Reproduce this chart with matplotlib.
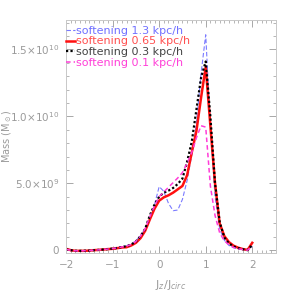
import numpy as np
import matplotlib
matplotlib.use('Agg')
import matplotlib.pyplot as plt
from matplotlib.ticker import MultipleLocator, FixedLocator

# Jz/Jcirc bin centres
jz = [-2.0, -1.9, -1.8, -1.7, -1.6, -1.5, -1.4, -1.3, -1.2, -1.1,
      -1.0, -0.9, -0.8, -0.7, -0.6, -0.5, -0.4, -0.3, -0.2, -0.1,
      0.0, 0.1, 0.2, 0.3, 0.4, 0.5, 0.6, 0.7, 0.8, 0.9,
      1.0, 1.1, 1.2, 1.3, 1.4, 1.5, 1.6, 1.7, 1.8, 1.9, 2.0]

# mass per bin, units of 1e9 Msun
soft_13 = [0.15, 0.0, -0.05, -0.05, -0.04, -0.03, 0.0, 0.02, 0.05, 0.08,
           0.12, 0.17, 0.25, 0.32, 0.45, 0.7, 1.1, 1.6, 2.3, 3.4,
           4.75, 4.4, 3.5, 2.95, 3.0, 3.8, 5.2, 7.1, 9.5, 13.2,
           16.1, 9.3, 4.0, 1.6, 0.75, 0.35, 0.18, 0.1, 0.03, 0.0, 0.3]
soft_065 = [0.1, 0.0, -0.05, -0.05, -0.05, -0.03, 0.0, 0.02, 0.05, 0.08,
            0.1, 0.15, 0.2, 0.22, 0.35, 0.55, 0.9, 1.45, 2.3, 3.1,
            3.7, 3.95, 4.1, 4.3, 4.55, 4.8, 5.6, 7.3, 8.9, 11.4,
            13.7, 9.3, 5.0, 2.0, 1.05, 0.6, 0.33, 0.18, 0.08, 0.02, 0.55]
soft_03 = [0.05, 0.0, -0.05, -0.05, -0.04, -0.03, 0.0, 0.02, 0.05, 0.08,
           0.12, 0.17, 0.24, 0.3, 0.42, 0.65, 1.05, 1.6, 2.6, 3.4,
           4.0, 4.3, 4.45, 4.65, 4.95, 5.35, 6.6, 8.1, 10.5, 12.9,
           14.1, 10.0, 5.0, 2.1, 0.95, 0.5, 0.28, 0.15, 0.07, 0.0, 0.4]
soft_01 = [0.05, 0.0, -0.05, -0.05, -0.04, -0.03, 0.0, 0.02, 0.05, 0.08,
           0.12, 0.17, 0.24, 0.3, 0.42, 0.65, 1.05, 1.6, 2.5, 3.3,
           4.0, 4.35, 4.7, 5.05, 5.4, 5.8, 6.5, 7.3, 8.4, 9.3,
           9.2, 4.8, 2.6, 1.3, 0.7, 0.4, 0.2, 0.1, 0.05, 0.0, 0.3]

labels = ['softening 1.3 kpc/h', 'softening 0.65 kpc/h',
          'softening 0.3 kpc/h', 'softening 0.1 kpc/h']

grey = '#9a9a9a'
plt.rcParams['font.family'] = 'DejaVu Sans'

fig = plt.figure(figsize=(2.95, 2.95), dpi=100)
ax = fig.add_axes([0.224, 0.142, 0.71, 0.79])

x = np.array(jz)
ax.plot(x, np.array(soft_13) * 1e9, color='#7a7aff', lw=0.8, ls=(0, (4, 2)), label=labels[0])
ax.plot(x, np.array(soft_065) * 1e9, color='#ff1010', lw=1.8, ls='-', label=labels[1])
ax.plot(x, np.array(soft_03) * 1e9, color='black', lw=1.6, ls=(0, (1, 1)), label=labels[2])
ax.plot(x, np.array(soft_01) * 1e9, color='#ff3cd8', lw=1.1, ls=(0, (3, 2)), label=labels[3])

ax.set_xlim(-2, 2.5)
ax.set_ylim(-2.2e8, 1.72e10)

ax.xaxis.set_major_locator(FixedLocator([-2, -1, 0, 1, 2]))
ax.xaxis.set_minor_locator(MultipleLocator(0.1))
ax.set_xticklabels(['\u22122', '\u22121', '0', '1', '2'])
ax.yaxis.set_major_locator(FixedLocator([0, 5e9, 1e10, 1.5e10]))
ax.yaxis.set_minor_locator(MultipleLocator(1e9))
ax.set_yticklabels(['0', r'5.0$\times$10$^{9}$', r'1.0$\times$10$^{10}$', r'1.5$\times$10$^{10}$'])

ax.tick_params(which='both', direction='in', top=True, right=True, colors=grey,
               labelcolor=grey, labelsize=7.5)
ax.tick_params(which='major', length=5, width=0.6, pad=5)
ax.tick_params(which='minor', length=2.5, width=0.5)
for s in ax.spines.values():
    s.set_color('#c8c8c8')
    s.set_linewidth(0.7)

ax.set_xlabel(r'J$_z$/J$_{circ}$', color=grey, fontsize=8)
ax.xaxis.set_label_coords(0.5, -0.105)
ax.set_ylabel(r'Mass (M$_\odot$)', color=grey, fontsize=7)
ax.yaxis.set_label_coords(-0.248, 0.5)

leg = ax.legend(loc='upper left', bbox_to_anchor=(-0.012, 0.987), frameon=False,
                fontsize=8, handlelength=0.8, handletextpad=0.05,
                borderaxespad=0.0, borderpad=0.25, labelspacing=0.05,
                labelcolor=['#7070ff', '#ff5050', '#444444', '#ff40d8'])

fig.savefig('out.png', dpi=100)
